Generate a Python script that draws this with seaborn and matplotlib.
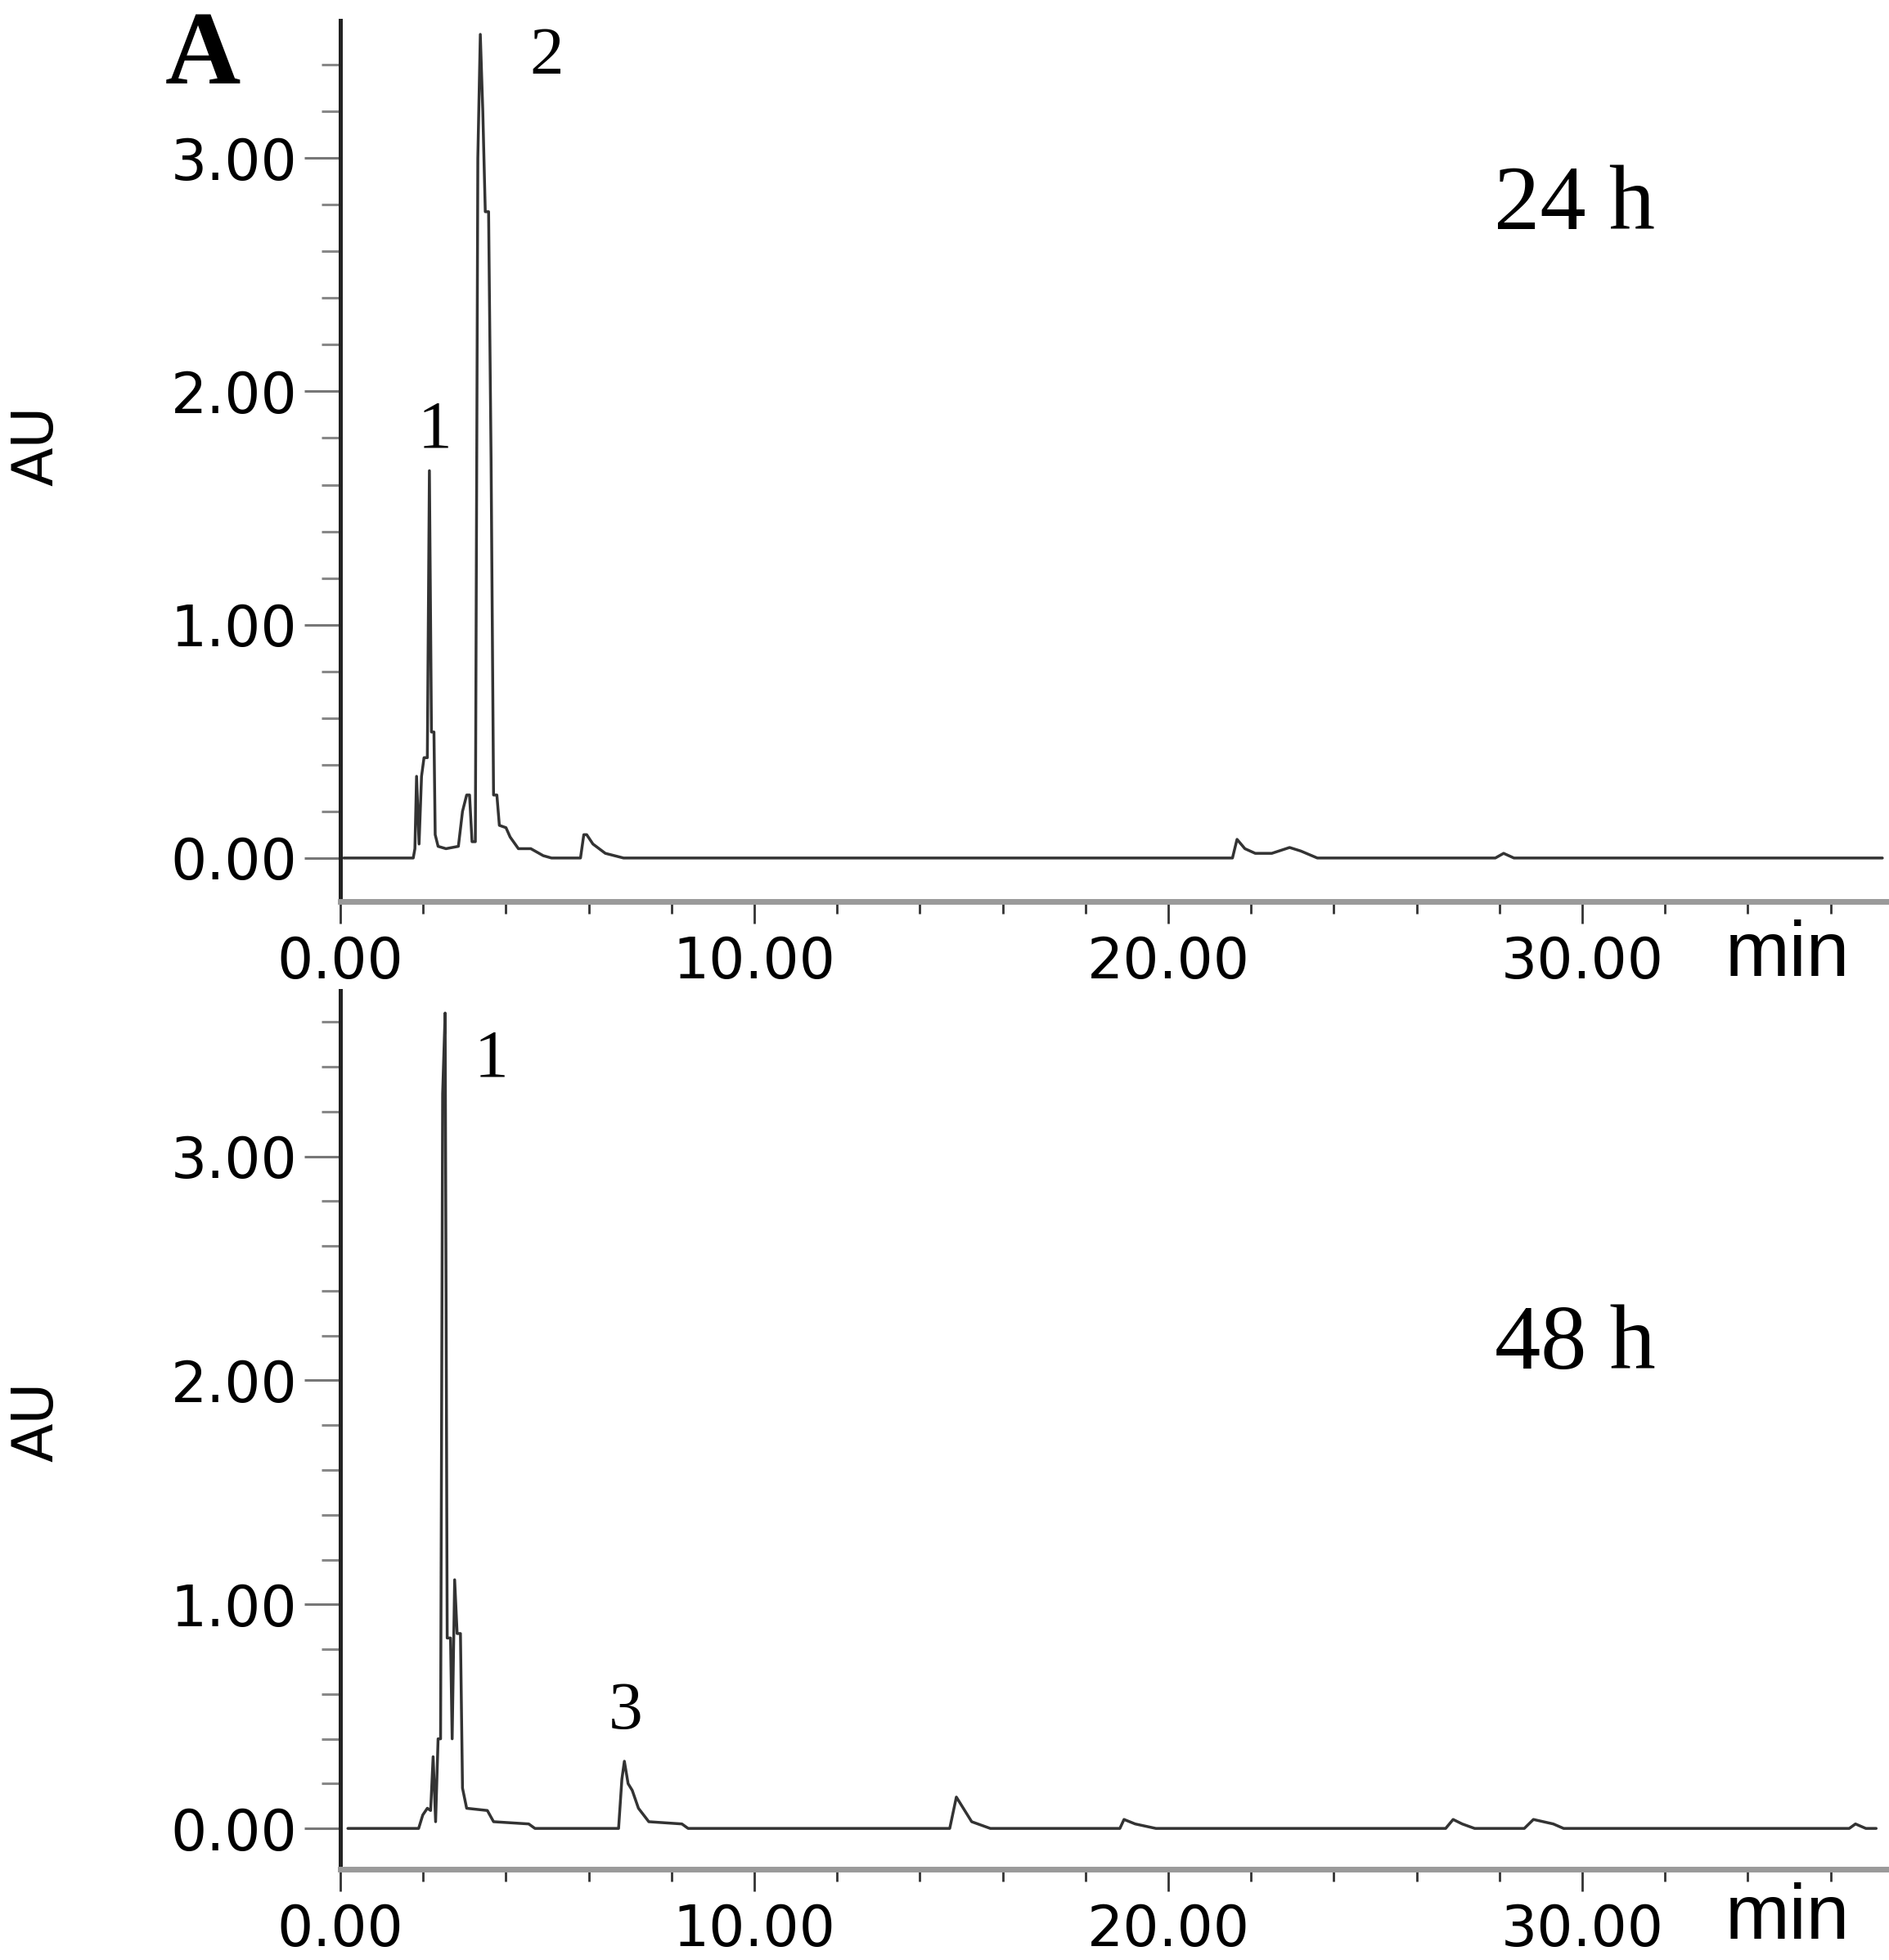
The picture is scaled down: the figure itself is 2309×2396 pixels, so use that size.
import matplotlib
matplotlib.use("Agg")
import matplotlib.pyplot as plt
import seaborn as sns
from matplotlib.ticker import MultipleLocator, FormatStrFormatter

# chromatogram traces (time in min, absorbance in AU)
t_24h = [0.08, 1.76, 1.80, 1.84, 1.90, 1.96, 2.02, 2.10, 2.15, 2.20, 2.26, 2.29,
         2.36, 2.55, 2.85, 2.95, 3.05, 3.12, 3.18, 3.26, 3.32, 3.38, 3.44, 3.50,
         3.58, 3.64, 3.70, 3.78, 3.84, 4.00, 4.10, 4.30, 4.60, 4.90, 5.10, 5.80,
         5.88, 5.95, 6.10, 6.40, 6.84, 21.55, 21.66, 21.85, 22.10, 22.50, 22.93,
         23.20, 23.60, 27.90, 28.10, 28.35, 37.25]
au_24h = [0.0, 0.0, 0.04, 0.35, 0.06, 0.35, 0.43, 0.43, 1.66, 0.54, 0.54, 0.10,
          0.05, 0.04, 0.05, 0.20, 0.27, 0.27, 0.07, 0.07, 3.00, 3.53, 3.20, 2.77,
          2.77, 1.71, 0.27, 0.27, 0.14, 0.13, 0.09, 0.04, 0.04, 0.01, 0.0, 0.0,
          0.10, 0.10, 0.06, 0.02, 0.0, 0.0, 0.08, 0.04, 0.02, 0.02, 0.045,
          0.03, 0.0, 0.0, 0.02, 0.0, 0.0]

t_48h = [0.18, 1.89, 1.99, 2.10, 2.18, 2.24, 2.30, 2.36, 2.42, 2.47, 2.53, 2.58,
         2.66, 2.70, 2.76, 2.82, 2.90, 2.95, 3.05, 3.55, 3.70, 4.55, 4.70, 6.72,
         6.80, 6.86, 6.95, 7.05, 7.20, 7.45, 8.25, 8.40, 14.72, 14.88, 15.25,
         15.70, 18.83, 18.93, 19.20, 19.70, 26.70, 26.88, 27.10, 27.40, 28.60,
         28.82, 29.30, 29.55, 36.45, 36.60, 36.85, 37.10]
au_48h = [0.0, 0.0, 0.06, 0.09, 0.08, 0.32, 0.03, 0.40, 0.40, 3.28, 3.64, 0.85,
          0.85, 0.40, 1.11, 0.87, 0.87, 0.18, 0.09, 0.08, 0.03, 0.02, 0.0, 0.0,
          0.22, 0.30, 0.20, 0.17, 0.09, 0.03, 0.02, 0.0, 0.0, 0.14, 0.03,
          0.0, 0.0, 0.04, 0.02, 0.0, 0.0, 0.04, 0.02, 0.0, 0.0,
          0.04, 0.02, 0.0, 0.0, 0.02, 0.0, 0.0]

x_major = [0, 10, 20, 30]
y_major = [0, 1, 2, 3]
panel_labels = ["24 h", "48 h"]
peak_labels_24h = ["1", "2"]
peak_labels_48h = ["1", "3"]

sns.set_style("white")
plt.rcParams["font.family"] = ["DejaVu Sans"]
plt.rcParams["text.color"] = "black"
plt.rcParams["xtick.labelcolor"] = "black"
plt.rcParams["ytick.labelcolor"] = "black"

fig = plt.figure(figsize=(23.09, 23.96), dpi=100)
ax1 = fig.add_axes([0.1802, 0.5401, 0.8198, 0.4495])
ax2 = fig.add_axes([0.1802, 0.04633, 0.8198, 0.44824])

line_col = "#333333"
sns.lineplot(x=t_24h, y=au_24h, ax=ax1, color=line_col, linewidth=2.5,
             estimator=None, sort=False)
sns.lineplot(x=t_48h, y=au_48h, ax=ax2, color=line_col, linewidth=2.5,
             estimator=None, sort=False)

ax1.set_ylim(-0.186, 3.59)
ax2.set_ylim(-0.182, 3.74)

for ax in (ax1, ax2):
    ax.set_xlim(0, 37.41)
    ax.set_xticks(x_major)
    ax.set_yticks(y_major)
    ax.xaxis.set_minor_locator(MultipleLocator(2))
    ax.yaxis.set_minor_locator(MultipleLocator(0.2))
    ax.xaxis.set_major_formatter(FormatStrFormatter("%.2f"))
    ax.yaxis.set_major_formatter(FormatStrFormatter("%.2f"))
    for s in ("top", "right"):
        ax.spines[s].set_visible(False)
    ax.spines["left"].set_color("#222222")
    ax.spines["left"].set_linewidth(3.6)
    ax.spines["bottom"].set_color("#9a9a9a")
    ax.spines["bottom"].set_linewidth(5)
    ax.tick_params(axis="y", which="major", direction="out", length=32, width=2.2,
                   color="#777777", pad=6, labelsize=50, labelcolor="black", left=True)
    ax.tick_params(axis="y", which="minor", direction="out", length=16.5, width=2.2,
                   color="#888888", left=True)
    ax.tick_params(axis="x", which="major", direction="out", length=19.5, width=2,
                   color="#333333", pad=10, labelsize=50, labelcolor="black", bottom=True)
    ax.tick_params(axis="x", which="minor", direction="out", length=11, width=2,
                   color="#333333", bottom=True)
    ax.set_xlabel("")
    ax.set_ylabel("")
    ax.patch.set_alpha(0)

serif = ["Liberation Serif", "DejaVu Serif"]
ax1.text(2.29, 1.83, peak_labels_24h[0], fontsize=60, family=serif, ha="center", va="center")
ax1.text(4.98, 3.43, peak_labels_24h[1], fontsize=60, family=serif, ha="center", va="center")
ax2.text(3.64, 3.43, peak_labels_48h[0], fontsize=60, family=serif, ha="center", va="center")
ax2.text(6.88, 0.52, peak_labels_48h[1], fontsize=60, family=serif, ha="center", va="center")
ax1.text(29.82, 2.79, panel_labels[0], fontsize=81, family=serif, ha="center", va="center")
ax2.text(29.82, 2.15, panel_labels[1], fontsize=81, family=serif, ha="center", va="center")

fig.text(0.1074, 0.97, "A", fontsize=92, family=serif, fontweight="bold",
         ha="center", va="center")
fig.text(0.0195, 1 - 545 / 2396, "AU", fontsize=50, rotation=90, ha="center", va="center")
fig.text(0.0195, 1 - 1738 / 2396, "AU", fontsize=50, rotation=90, ha="center", va="center")
fig.text(2185 / 2309, 1 - 1169 / 2396, "min", fontsize=68,
         family=["Liberation Sans", "DejaVu Sans"], ha="center", va="center")
fig.text(2185 / 2309, 1 - 2345 / 2396, "min", fontsize=68,
         family=["Liberation Sans", "DejaVu Sans"], ha="center", va="center")

fig.savefig("out.png", dpi=100)
